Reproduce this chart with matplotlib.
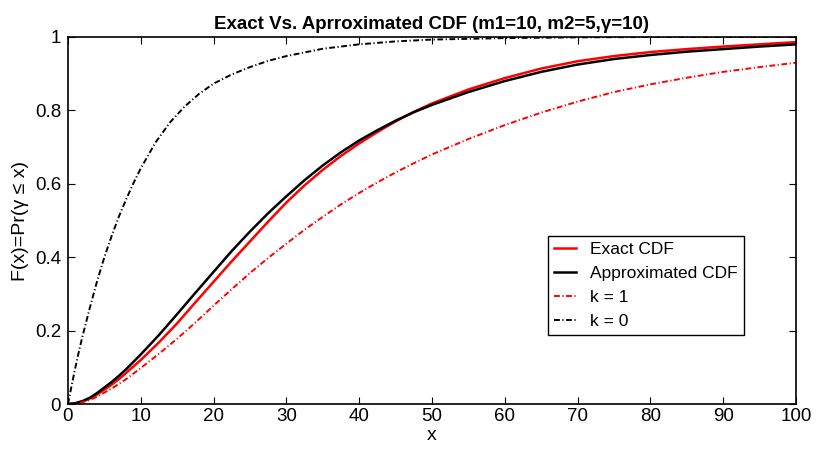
import matplotlib
matplotlib.use("Agg")
import matplotlib.pyplot as plt

plt.rcParams['font.family'] = ['Liberation Sans', 'DejaVu Sans']

# values
x_vals = [0, 1, 2, 3, 4, 5, 6, 7, 8, 10, 12.5, 15, 17.5, 20, 22.5, 25, 27.5, 30, 32.5,
          35, 37.5, 40, 42.5, 45, 47.5, 50, 55, 60, 65, 70, 75, 80, 85, 90, 95, 100]
exact_cdf = [0, 0.002, 0.007, 0.015, 0.026, 0.039, 0.053, 0.068, 0.085, 0.12, 0.168, 0.22,
             0.277, 0.333, 0.389, 0.443, 0.497, 0.549, 0.596, 0.638, 0.676, 0.71, 0.741,
             0.77, 0.796, 0.819, 0.857, 0.888, 0.914, 0.934, 0.948, 0.959, 0.967, 0.974,
             0.98, 0.986]
approx_cdf = [0, 0.002, 0.008, 0.017, 0.03, 0.045, 0.06, 0.077, 0.095, 0.135, 0.188, 0.245,
              0.303, 0.36, 0.417, 0.47, 0.52, 0.566, 0.61, 0.65, 0.686, 0.718, 0.746,
              0.772, 0.795, 0.815, 0.85, 0.88, 0.905, 0.925, 0.94, 0.951, 0.96, 0.967,
              0.974, 0.98]
k1_cdf = [0, 0.001, 0.005, 0.011, 0.02, 0.031, 0.042, 0.055, 0.068, 0.098, 0.137, 0.178,
          0.222, 0.268, 0.313, 0.357, 0.398, 0.437, 0.475, 0.51, 0.544, 0.575, 0.604,
          0.631, 0.656, 0.68, 0.722, 0.76, 0.794, 0.824, 0.85, 0.871, 0.889, 0.905,
          0.918, 0.93]

x_k0 = [0, 0.5, 1, 1.5, 2, 3, 4, 5, 6, 7, 8, 9, 10, 12, 14, 16, 18, 20, 22.5, 25, 27.5,
        30, 35, 40, 45, 50, 60, 70, 80, 100]
k0_cdf = [0, 0.05, 0.098, 0.143, 0.185, 0.262, 0.335, 0.4, 0.458, 0.511, 0.558, 0.602,
          0.642, 0.712, 0.767, 0.81, 0.845, 0.873, 0.898, 0.918, 0.935, 0.948, 0.968,
          0.98, 0.988, 0.993, 0.997, 0.999, 1.0, 1.0]

fig = plt.figure(figsize=(8.16, 4.49), dpi=100)
ax = fig.add_axes([0.0833, 0.1002, 0.8922, 0.8174])

dashdot = (3.0, 1.3, 0.6, 1.3)
ax.plot(x_vals, exact_cdf, color="red", lw=1.8, label="Exact CDF")
ax.plot(x_vals, approx_cdf, color="black", lw=1.8, label="Approximated CDF")
ax.plot(x_vals, k1_cdf, color="red", lw=1.4, dashes=dashdot, label="k = 1")
ax.plot(x_k0, k0_cdf, color="black", lw=1.4, dashes=dashdot, label="k = 0")

ax.set_xlim(0, 100)
ax.set_ylim(0, 1)
ax.set_xticks(range(0, 101, 10))
ax.set_yticks([0, 0.2, 0.4, 0.6, 0.8, 1])
ax.set_yticklabels(["0", "0.2", "0.4", "0.6", "0.8", "1"])
ax.tick_params(direction="in", length=5, labelsize=13.5, top=True, right=True)
ax.tick_params(axis="x", pad=3)
ax.tick_params(axis="y", pad=5)
for s in ax.spines.values():
    s.set_linewidth(1.2)

ax.set_xlabel("x", fontsize=14, labelpad=1)
ax.set_ylabel("F(x)=Pr(γ ≤ x)", fontsize=14, labelpad=4)
ax.set_title("Exact Vs. Aprroximated CDF (m1=10, m2=5,γ=10)", fontsize=13.5,
             fontweight="bold", pad=6)

leg = ax.legend(loc="lower left", bbox_to_anchor=(0.659, 0.188), borderaxespad=0,
                fancybox=False, framealpha=1, edgecolor="black", fontsize=12.5,
                handlelength=1.3, handletextpad=0.8, labelspacing=0.5, borderpad=0.35)
leg.get_frame().set_linewidth(1)

fig.savefig("out.png", dpi=100)
